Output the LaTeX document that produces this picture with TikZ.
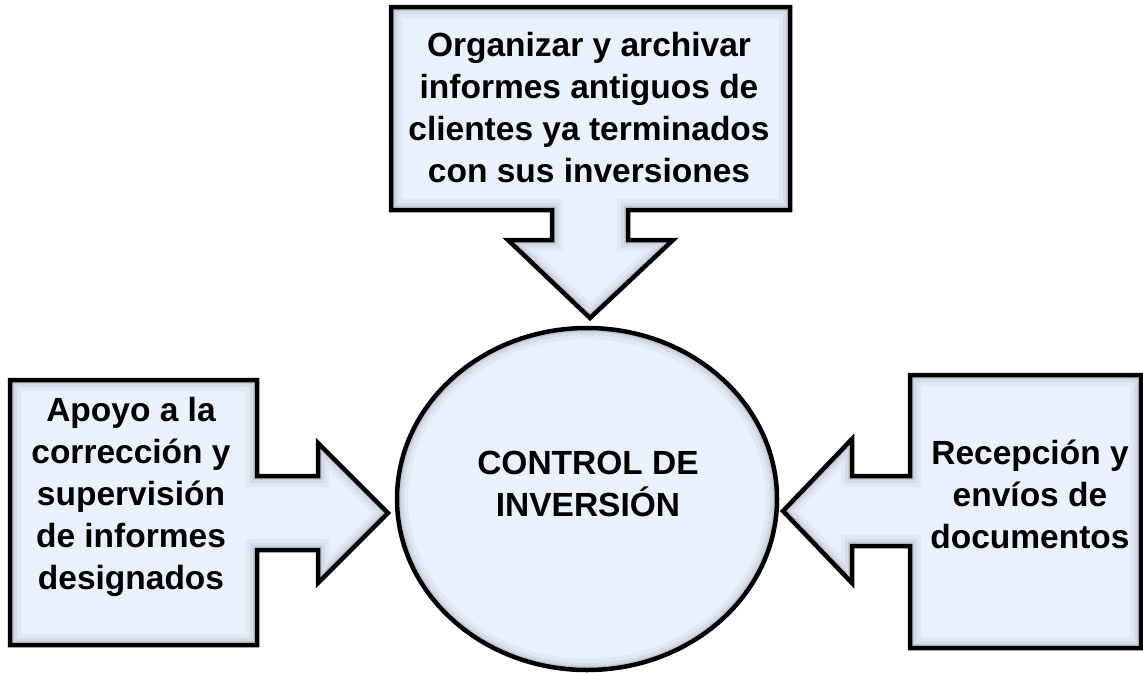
\documentclass[tikz,border=0pt]{standalone}
\usepackage{fontspec}
\setmainfont{Liberation Sans}
\definecolor{boxblue}{RGB}{232,241,252}
\tikzset{
  shapefill/.style={fill=boxblue},
  shapeborder/.style={draw=black, line width=4.5pt, line join=miter},
  txt/.style={font=\bfseries\fontsize{33.5}{42}\selectfont, align=center, text=black, inner sep=0pt},
}
\newcommand{\bevelshape}[1]{%
  \fill[shapefill] #1;
  \begin{scope}
    \clip #1;
    \draw[black!70, opacity=0.05, line width=22pt] #1;
    \draw[black!70, opacity=0.07, line width=14pt] #1;
    \draw[black!70, opacity=0.12, line width=8pt] #1;
  \end{scope}
  \draw[shapeborder] #1;
}
\begin{document}
\begin{tikzpicture}[x=1pt,y=-1pt]
\useasboundingbox (0,0) rectangle (1143,672);
% central ellipse
\bevelshape{(587,499) ellipse [x radius=190, y radius=171]}
% top callout
\bevelshape{(391,7) -- (790,7) -- (790,210) -- (628,210) -- (628,240) -- (673,240) -- (590,318) -- (508,240) -- (552,240) -- (552,210) -- (391,210) -- cycle}
% left callout
\bevelshape{(10,380) -- (257,380) -- (257,476) -- (318,476) -- (318,443) -- (388,513) -- (318,583) -- (318,550) -- (257,550) -- (257,645) -- (10,645) -- cycle}
% right callout
\bevelshape{(1141,375) -- (910,375) -- (910,476) -- (852,476) -- (852,439) -- (783,511) -- (852,583) -- (852,546) -- (910,546) -- (910,648) -- (1141,648) -- cycle}
% texts
\node[txt] (ctrl) at (588,484) {CONTROL DE\\INVERSIÓN};
\node[txt] (top) at (589,108) {Organizar y archivar\\informes antiguos de\\clientes ya terminados\\con sus inversiones};
\node[txt] (left) at (131,497) {Apoyo a la\\corrección y\\supervisión\\de informes\\designados};
\node[txt] (right) at (1030,494) {Recepción y\\envíos de\\documentos};
\end{tikzpicture}
\end{document}
